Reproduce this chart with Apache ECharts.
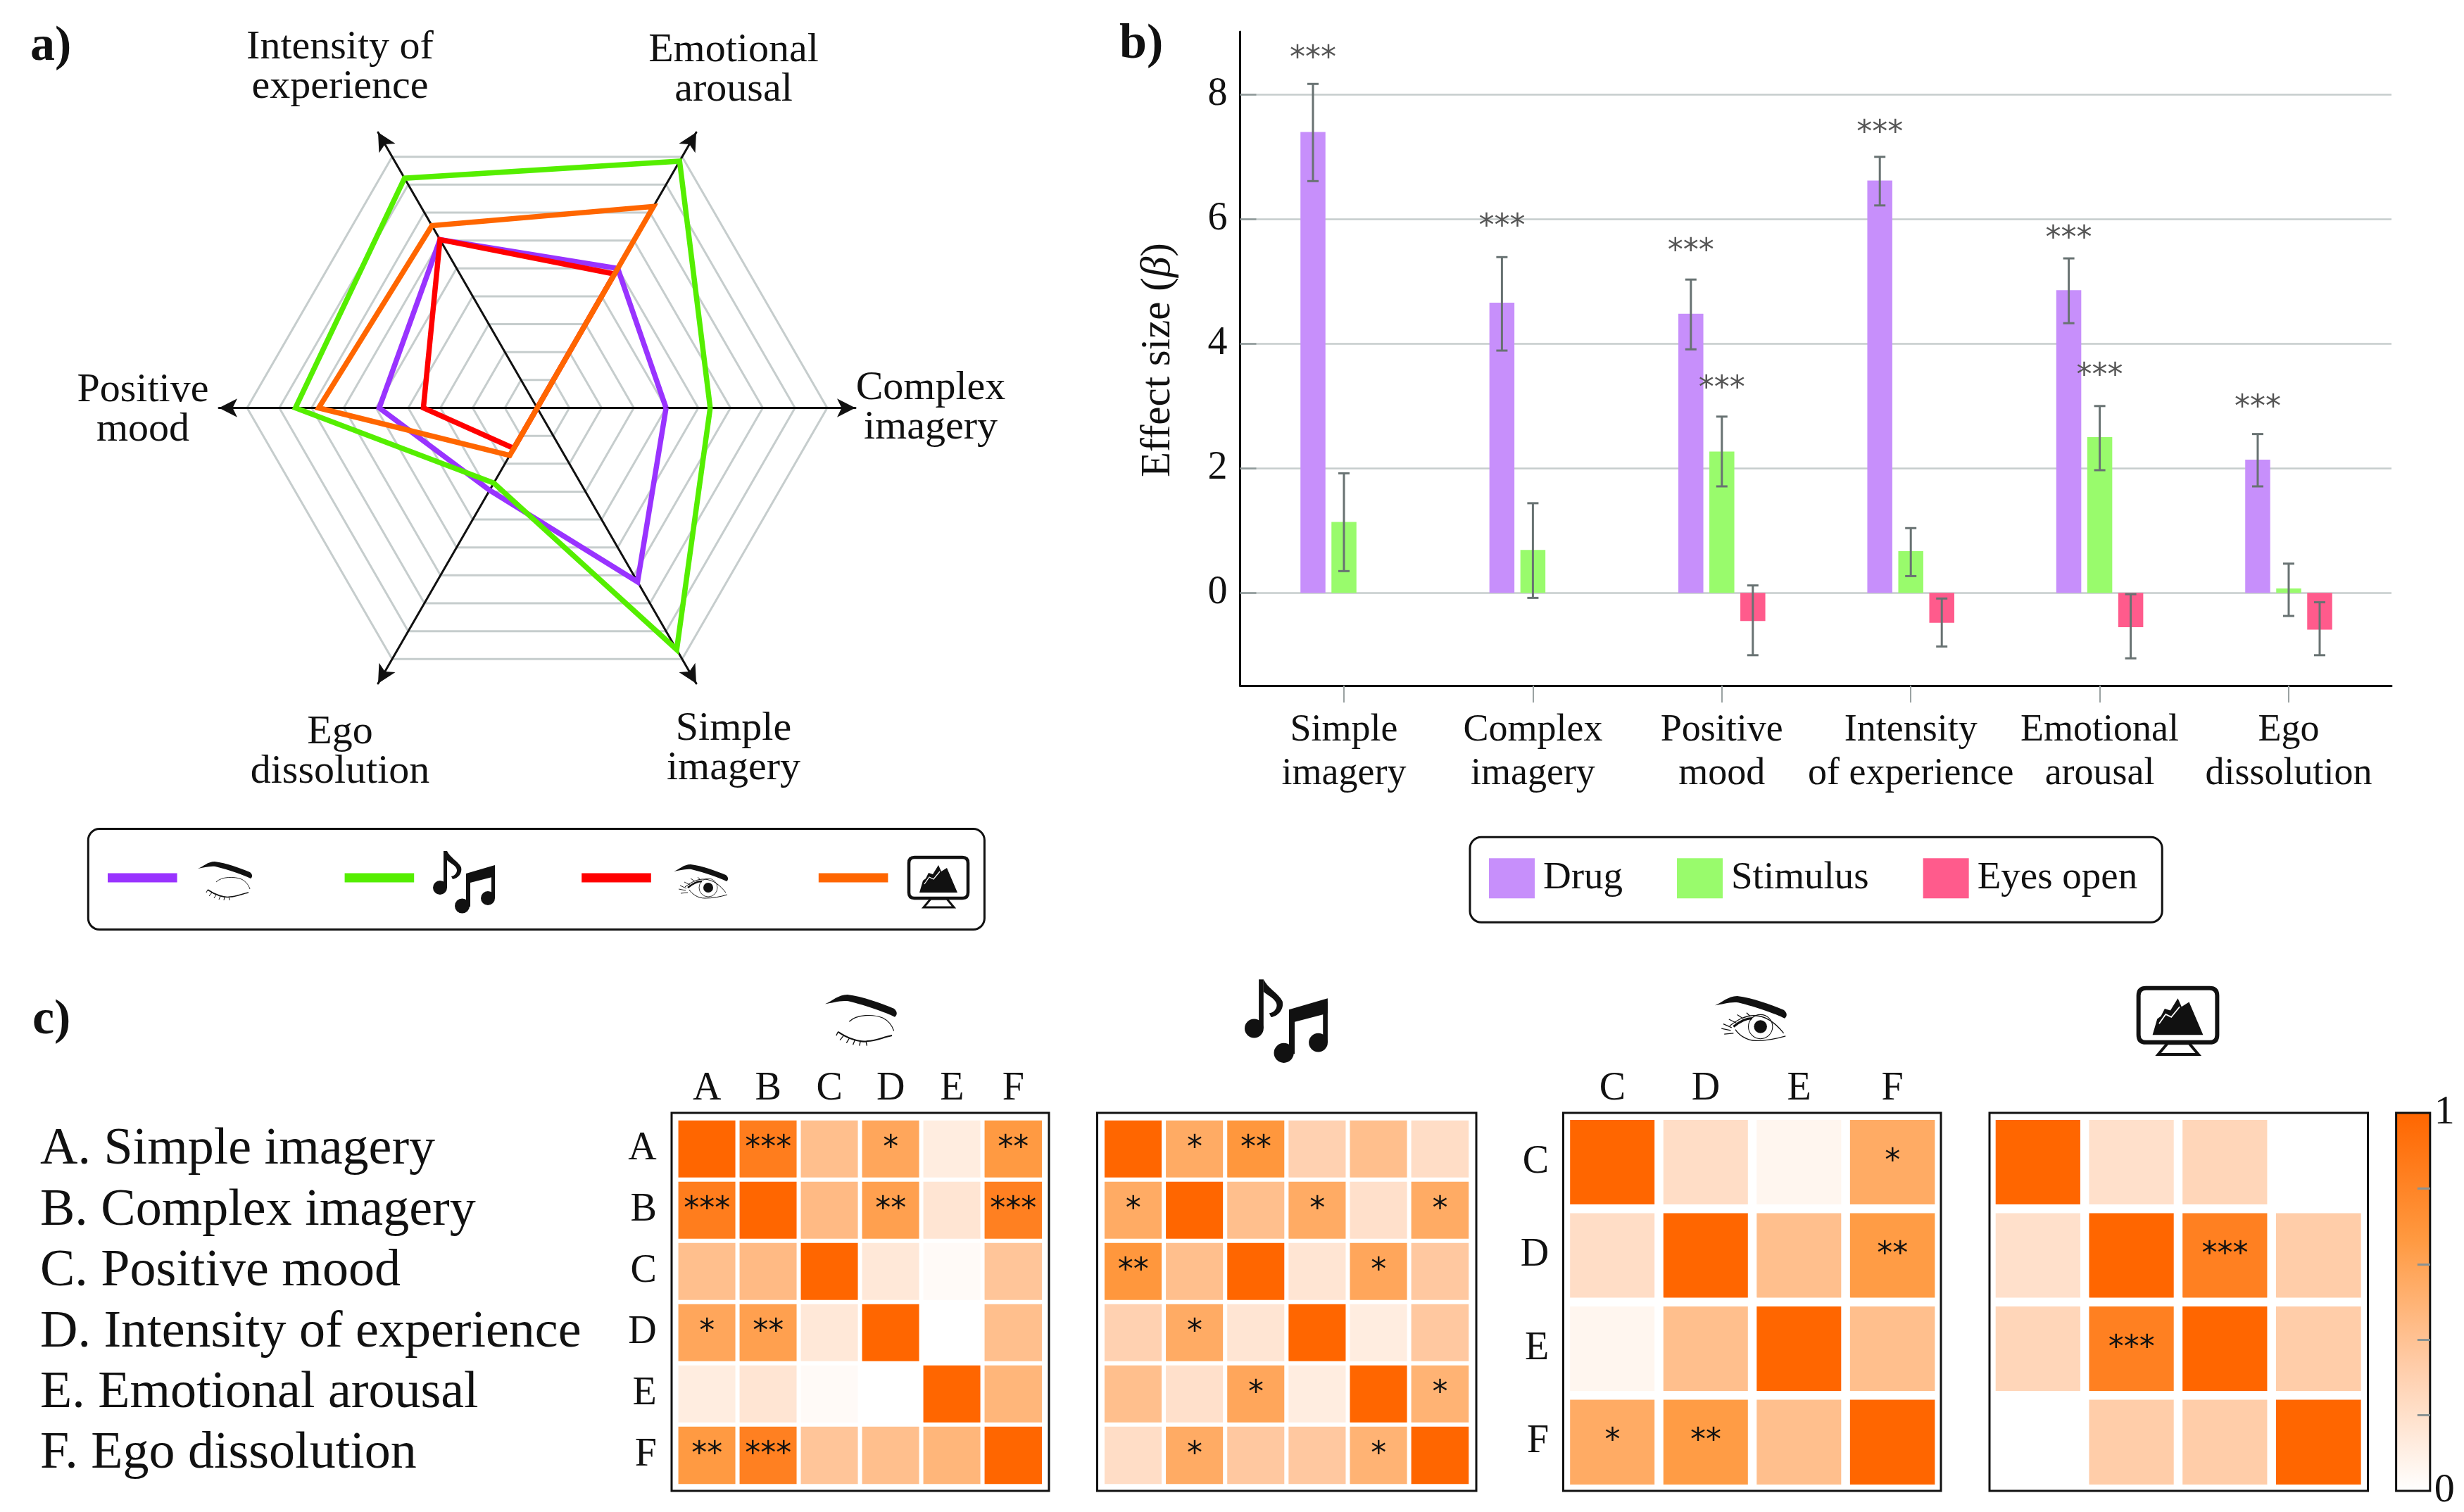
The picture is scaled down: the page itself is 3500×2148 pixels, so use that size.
<!DOCTYPE html>
<html><head><meta charset="utf-8">
<style>html,body{margin:0;padding:0;background:#fff}#c{width:3500px;height:2148px}</style>
<script src="https://cdn.jsdelivr.net/npm/echarts@6/dist/echarts.min.js"></script>
</head><body><div id="c"></div>
<script>
// ---------- data: radar (order of axes, counter-clockwise from the right)
const radarAxes = ['Complex\nimagery','Emotional\narousal','Intensity of\nexperience','Positive\nmood','Ego\ndissolution','Simple\nimagery'];
const radarClosed = [4.0, 5.0, 6.03, 4.9, 2.95, 6.23];
const radarMusic  = [5.37, 8.84, 8.23, 7.5, 2.69, 8.66];
const radarOpen   = [0, 4.8, 6.03, 3.53, 1.45, 0];
const radarVideo  = [0, 7.22, 6.53, 6.78, 1.7, 0];
const radarNames  = ['Eyes closed','Music','Eyes opened','Video'];
const radarColors = ['#9933ff','#55ee00','#ff0000','#ff6600'];
// ---------- data: bars
const barCategories = ['Simple\nimagery','Complex\nimagery','Positive\nmood','Intensity\nof experience','Emotional\narousal','Ego\ndissolution'];
const barTicks = [0,1,2,3,4,5];
const drug     = [7.40,4.66,4.48,6.62,4.86,2.14];
const drugLow  = [6.61,3.89,3.91,6.22,4.33,1.71];
const drugHigh = [8.17,5.39,5.03,7.00,5.37,2.55];
const stim     = [1.14,0.69,2.27,0.67,2.50,0.07];
const stimLow  = [0.35,-0.08,1.71,0.27,1.97,-0.37];
const stimHigh = [1.92,1.44,2.83,1.04,3.00,0.47];
const eyes     = [null,null,-0.45,-0.48,-0.55,-0.59];
const eyesLow  = [null,null,-1.00,-0.86,-1.05,-1.00];
const eyesHigh = [null,null,0.12,-0.09,-0.02,-0.15];
const drugStarAt = [8.70,6.00,5.60,7.50,5.80,3.09];
const stimStarAt = [null,null,3.40,null,3.60,null];
const yTicks = [0,2,4,6,8];
// ---------- data: correlation panels
const listText = ['A. Simple imagery','B. Complex imagery','C. Positive mood','D. Intensity of experience','E. Emotional arousal','F. Ego dissolution'];
const lettersAll = ['A','B','C','D','E','F'];
const lettersSub = ['C','D','E','F'];
const closedVals = [
 [1,.85,.42,.58,.12,.66],[.85,1,.45,.62,.17,.83],[.42,.45,1,.15,.03,.38],
 [.58,.62,.15,1,0,.42],[.12,.17,.03,0,1,.48],[.66,.83,.38,.42,.48,1]];
const closedStars = [
 ['','***','','*','','**'],['***','','','**','','***'],['','','','','',''],
 ['*','**','','','',''],['','','','','',''],['**','***','','','','']];
const musicVals = [
 [1,.55,.68,.3,.42,.22],[.55,1,.42,.55,.2,.55],[.68,.42,1,.17,.58,.36],
 [.3,.55,.17,1,.12,.36],[.42,.2,.58,.12,1,.5],[.22,.55,.36,.36,.5,1]];
const musicStars = [
 ['','*','**','','',''],['*','','','*','','*'],['**','','','','*',''],
 ['','*','','','',''],['','','*','','','*'],['','*','','','*','']];
const openVals = [[1,.22,.06,.55],[.22,1,.42,.65],[.06,.42,1,.42],[.55,.65,.42,1]];
const openStars = [['','','','*'],['','','','**'],['','','',''],['*','**','','']];
const videoVals = [[1,.2,.27,0],[.2,1,.83,.33],[.27,.83,1,.33],[0,.33,.33,1]];
const videoStars = [['','','',''],['','','***',''],['','***','',''],['','','','']];

const SERIF = '"Liberation Serif"';
const STAR = '"DejaVu Sans"';
const GRID = '#c6cdcd', BLACK = '#111';
const RAMP = ['#ffffff','#ffcca8','#ff9940','#ff6600'];

// ---------- icons, drawn from vector paths in a local box
const BROW = 'M0,10 C8,7 14,0 24,0 C40,2 60,9 74,15 C78,18 78,22 75,24 C65,19 45,12 25,7 C16,6 8,9 0,10 Z';
const ICONS = {
  closed: [
    {d:BROW, fill:BLACK},
    {d:'M26,29 C34,21 52,21 62,25 C68,28 72,33 74,39', stroke:BLACK, w:.9},
    {d:'M14,40 C24,47 38,52 46,50 C54,50 62,46 72,44', stroke:BLACK, w:1.6},
    {d:'M14,40 L12,44 M20,44 L16,49 M26,47 L23,52 M32,49 L30,54 M38,50 L37,55 M44,50 L45,55', stroke:BLACK, w:1}
  ],
  open: [
    {d:BROW, fill:BLACK},
    {d:'M16,32 C24,26 32,21 42,21 C56,21 66,30 74,40', stroke:BLACK, w:1},
    {d:'M20,33 C26,28 32,24 40,24', stroke:BLACK, w:2.4},
    {d:'M22,36 C26,42 34,48 44,48 C56,48 66,46 76,43', stroke:BLACK, w:1},
    {d:'M62,33 a13,13 0 1,1 -26,0 a13,13 0 1,1 26,0 Z', stroke:BLACK, w:.8},
    {d:'M56,33 a7,7 0 1,1 -14,0 a7,7 0 1,1 14,0 Z', fill:BLACK},
    {d:'M18,34 L9,30 M17,37 L7,35 M20,40 L10,41 M23,29 L15,25 M30,24 L24,20 M38,22 L34,18', stroke:BLACK, w:.9}
  ],
  music: [
    {d:'M15,1 L20,1 L20,53 L15,53 Z', fill:BLACK},
    {d:'M20,1 C24,10 36,16 40,24 C42,32 36,40 28,41 L26,37 C32,36 36,30 33,25 C30,20 24,18 20,14 Z', fill:BLACK},
    {d:'M20,53 a10,10 0 1,1 -20,0 a10,10 0 1,1 20,0 Z', fill:BLACK},
    {d:'M47,33 L88,21 L88,37 L53,46 L53,80 L47,80 Z', fill:BLACK},
    {d:'M83,25 L88,25 L88,68 L83,68 Z', fill:BLACK},
    {d:'M52,79 a10.5,10.5 0 1,1 -21,0 a10.5,10.5 0 1,1 21,0 Z', fill:BLACK},
    {d:'M88,68 a10,10 0 1,1 -20,0 a10,10 0 1,1 20,0 Z', fill:BLACK}
  ],
  video: [
    {d:'M10,2 L78,2 Q86,2 86,10 L86,52 Q86,60 78,60 L10,60 Q2,60 2,52 L2,10 Q2,2 10,2 Z', stroke:BLACK, w:4.5},
    {d:'M33,61 L56,61 L66,73 L23,73 Z', stroke:BLACK, w:3},
    {d:'M17,52 L22,35 L26,32 L30,24 L36,26 L44,13 L48,22 L56,17 L71,52 Z', fill:BLACK},
    {d:'M24,40 L31,30 L37,33 L46,22', stroke:'#fff', w:1.3}
  ]
};
const iconPlaces = [
  {icon:'closed', x:281,  y:1224, s:1},
  {icon:'music',  x:615,  y:1208, s:1},
  {icon:'open',   x:957,  y:1228, s:1},
  {icon:'video',  x:1289, y:1216, s:1},
  {icon:'closed', x:1172, y:1413, s:1.32},
  {icon:'music',  x:1768, y:1390, s:1.34},
  {icon:'open',   x:2436, y:1415, s:1.32},
  {icon:'video',  x:3035, y:1401, s:1.33}
];

// ---------- helpers
function heatData(vals, stars){
  const out = [];
  vals.forEach((row,r)=>row.forEach((v,c)=>out.push({value:[c,r,v], stars:stars[r][c]})));
  return out;
}
const panels = [
  {vals:closedVals, stars:closedStars, cats:lettersAll, labels:true,  left:960.8,  top:1589, w:522,   h:522, gap:6,    box:[954,1581,536,537], yMargin:28, xMargin:14},
  {vals:musicVals,  stars:musicStars,  cats:lettersAll, labels:false, left:1566.2, top:1589, w:522.8, h:522, gap:6,    box:[1558.5,1581,538.5,537]},
  {vals:openVals,   stars:openStars,   cats:lettersSub, labels:true,  left:2224.2, top:1585, w:530.2, h:530, gap:12.5, box:[2220.5,1581,536.5,537], yMargin:24, xMargin:10},
  {vals:videoVals,  stars:videoStars,  cats:lettersSub, labels:false, left:2828.7, top:1585, w:531,   h:530, gap:12.5, box:[2826,1581,537.5,537]}
];

const grid = [{left:1761.5, top:45, width:1635.5, height:929}];
const xAxis = [{
  type:'value', gridIndex:0, min:-0.5496, max:5.544, position:'bottom',
  axisLine:{onZero:false, lineStyle:{color:BLACK, width:3}},
  axisTick:{customValues:barTicks, length:24, lineStyle:{color:'#9aa2a2', width:2}},
  axisLabel:{customValues:barTicks, formatter:v=>barCategories[v], fontFamily:SERIF, fontSize:54, lineHeight:62, color:BLACK, margin:33},
  splitLine:{show:false}
}];
const yAxis = [{
  type:'value', gridIndex:0, min:-1.488, max:9.009,
  axisLine:{show:true, onZero:false, lineStyle:{color:BLACK, width:3}},
  axisTick:{show:true, inside:true, length:23, customValues:yTicks, lineStyle:{color:'#8f9999', width:2.5}},
  axisLabel:{customValues:yTicks, fontFamily:SERIF, fontSize:56, color:BLACK, margin:18, padding:[3,0,0,0]},
  splitLine:{show:true, lineStyle:{color:GRID, width:2.5}},
  name:'Effect size ({i|β})', nameLocation:'middle', nameGap:87,
  nameTextStyle:{fontFamily:SERIF, fontSize:59, color:BLACK, padding:[0,4,0,0], rich:{i:{fontFamily:SERIF, fontSize:59, fontStyle:'italic', color:BLACK}}}
}];

const series = [];
// radar
series.push({
  type:'radar', radarIndex:0, symbol:'none', z:5,
  data:[radarClosed,radarMusic,radarOpen,radarVideo].map((v,i)=>({
    name:radarNames[i], value:v,
    itemStyle:{color:radarColors[i]},
    lineStyle:{color:radarColors[i], width:7.5, join:'miter', opacity:1}
  }))
});
// bars
function barSeries(name, vals, color){
  return {type:'bar', name, xAxisIndex:0, yAxisIndex:0, barWidth:35.5, barGap:'24%',
    data:vals.map((v,i)=>[barTicks[i], v]), itemStyle:{color}, z:2};
}
series.push(barSeries('Drug',drug,'#c78ffb'), barSeries('Stimulus',stim,'#99fb6c'), barSeries('Eyes open',eyes,'#ff5b8c'));
// error bars
const errRows = [];
[[drugLow,drugHigh],[stimLow,stimHigh],[eyesLow,eyesHigh]].forEach((pair,k)=>{
  barTicks.forEach((t,i)=>{ if(pair[0][i]!=null) errRows.push([t,pair[0][i],pair[1][i],k]); });
});
series.push({
  type:'custom', xAxisIndex:0, yAxisIndex:0, z:4, silent:true, clip:false,
  encode:{x:0,y:[1,2]}, data:errRows,
  renderItem(params, api){
    const dx = (api.value(3)-1)*44;
    const a = api.coord([api.value(0), api.value(1)]), b = api.coord([api.value(0), api.value(2)]);
    const x = a[0]+dx, st = {stroke:'#687272', lineWidth:3, fill:null};
    return {type:'group', children:[
      {type:'line', shape:{x1:x,y1:a[1],x2:x,y2:b[1]}, style:st},
      {type:'line', shape:{x1:x-8,y1:a[1],x2:x+8,y2:a[1]}, style:st},
      {type:'line', shape:{x1:x-8,y1:b[1],x2:x+8,y2:b[1]}, style:st}
    ]};
  }
});
// significance stars over the bars
const starRows = [];
barTicks.forEach((t,i)=>{ starRows.push([t,drugStarAt[i],0]); if(stimStarAt[i]!=null) starRows.push([t,stimStarAt[i],1]); });
series.push({
  type:'custom', xAxisIndex:0, yAxisIndex:0, z:4, silent:true, clip:false,
  encode:{x:0,y:1}, data:starRows,
  renderItem(params, api){
    const p = api.coord([api.value(0), api.value(1)]);
    return {type:'text', x:p[0]+(api.value(2)-1)*44, y:p[1]+12,
      style:{text:'***', fill:'#555', font:'44px '+STAR, textAlign:'center', textVerticalAlign:'middle'}};
  }
});
// heatmaps
const heatIndices = [];
panels.forEach((p,i)=>{
  const g = grid.length;
  grid.push({left:p.left, top:p.top, width:p.w, height:p.h});
  const ax = {type:'category', gridIndex:g, data:p.cats, axisLine:{show:false}, axisTick:{show:false}, splitLine:{show:false}, splitArea:{show:false}};
  const lab = o=>({show:p.labels, fontFamily:SERIF, fontSize:56, color:BLACK, ...o});
  xAxis.push({...ax, position:'top', axisLabel:lab({margin:p.xMargin||14})});
  yAxis.push({...ax, inverse:true, axisLabel:lab({margin:p.yMargin||26, padding:[9,0,0,0]})});
  heatIndices.push(series.length);
  series.push({
    type:'heatmap', xAxisIndex:xAxis.length-1, yAxisIndex:yAxis.length-1,
    data:heatData(p.vals,p.stars), z:2,
    itemStyle:{borderColor:'#fff', borderWidth:p.gap},
    label:{show:true, formatter:o=>o.data.stars||'', fontFamily:STAR, fontSize:44, color:'#111'},
    emphasis:{disabled:true}
  });
});
// colour bar
const barGrid = grid.length;
grid.push({left:3403.6, top:1581, width:48.2, height:537, show:true, borderColor:BLACK, borderWidth:3, backgroundColor:'transparent', z:3});
xAxis.push({type:'category', gridIndex:barGrid, data:['scale'], show:false});
yAxis.push({type:'value', gridIndex:barGrid, min:0, max:1, position:'right', z:6,
  axisLine:{show:false},
  axisTick:{show:true, inside:true, length:18, customValues:[.2,.4,.6,.8], lineStyle:{color:'#8a9292', width:3}},
  axisLabel:{customValues:[0,1], fontFamily:SERIF, fontSize:58, color:BLACK, margin:6},
  splitLine:{show:false}});
series.push({type:'bar', xAxisIndex:xAxis.length-1, yAxisIndex:yAxis.length-1, barWidth:'100%', silent:true, z:1, data:[1],
  itemStyle:{color:new echarts.graphic.LinearGradient(0,1,0,0,RAMP.map((c,i)=>({offset:i/(RAMP.length-1),color:c})))}});
// icons
series.push({
  type:'custom', coordinateSystem:'none', silent:true, z:6, data:iconPlaces.map((_,i)=>i),
  renderItem(params){
    const pl = iconPlaces[params.dataIndex];
    return {type:'group', x:pl.x, y:pl.y, scaleX:pl.s, scaleY:pl.s,
      children:ICONS[pl.icon].map(e=>({type:'path', shape:{pathData:e.d},
        style:{fill:e.fill||null, stroke:e.stroke||null, lineWidth:e.w||0}}))};
  }
});

// ---------- free text and frames
const T = (text,x,y,font,align,extra)=>({type:'text', x, y, z:10, silent:true,
  style:Object.assign({text, font, fill:BLACK, textAlign:align||'center', textVerticalAlign:'middle'}, extra||{})});
const radarLabelPos = [[1322,580],[1042,100],[483,96],[203,583],[483,1069],[1042,1064]];
const elements = [];
radarAxes.forEach((t,i)=>elements.push(T(t,radarLabelPos[i][0],radarLabelPos[i][1],'58px '+SERIF,'center',{lineHeight:56})));
elements.push(T('a)',43,67,'bold 70px '+SERIF,'left'), T('b)',1590,64,'bold 70px '+SERIF,'left'), T('c)',46,1450,'bold 70px '+SERIF,'left'));
listText.forEach((t,i)=>elements.push({type:'text', x:57, y:1671+i*86.4, z:10, silent:true,
  style:{text:t, font:'74px '+SERIF, fill:BLACK, textAlign:'left', textVerticalAlign:'bottom'}}));
panels.forEach(p=>elements.push({type:'rect', z:10, silent:true,
  shape:{x:p.box[0],y:p.box[1],width:p.box[2],height:p.box[3]}, style:{fill:null,stroke:BLACK,lineWidth:3}}));

const option = {
  animation:false, backgroundColor:'#fff',
  radar:[
    {center:[763,579.5], radius:412, startAngle:0, splitNumber:9, shape:'polygon',
     indicator:radarAxes.map(n=>({name:n,min:0,max:9})),
     axisName:{show:false}, axisLabel:{show:false}, axisTick:{show:false}, axisLine:{show:false},
     splitArea:{show:false}, splitLine:{lineStyle:{color:GRID,width:3}}},
    {center:[763,579.5], radius:452, startAngle:0, splitNumber:1, shape:'polygon',
     indicator:radarAxes.map(n=>({name:n,min:0,max:10})),
     axisName:{show:false}, axisLabel:{show:false}, axisTick:{show:false},
     axisLine:{show:true, symbol:['none','arrow'], symbolSize:[20,26], lineStyle:{color:BLACK,width:3}},
     splitArea:{show:false}, splitLine:{show:false}}
  ],
  legend:[
    {data:radarNames, left:125.3, top:1177.6, orient:'horizontal', icon:'rect', itemWidth:98.6, itemHeight:13, itemGap:238,
     formatter:()=>'', selectedMode:false, borderColor:BLACK, borderWidth:3, borderRadius:16,
     padding:[63,137,67,27.7]},
    {data:['Drug','Stimulus','Eyes open'], left:2088, top:1189.3, orient:'horizontal', icon:'rect', itemWidth:65, itemHeight:57, itemGap:77,
     selectedMode:false, borderColor:BLACK, borderWidth:3, borderRadius:16, padding:[30,35,34,27],
     textStyle:{fontFamily:SERIF, fontSize:55, color:BLACK, padding:[0,0,0,7]}}
  ],
  grid, xAxis, yAxis, series,
  visualMap:[{type:'continuous', show:false, min:0, max:1, dimension:2, seriesIndex:heatIndices, inRange:{color:RAMP}}],
  graphic:{elements}
};
const chart = echarts.init(document.getElementById('c'), null, {renderer:'canvas'});
chart.setOption(option);
</script></body></html>
